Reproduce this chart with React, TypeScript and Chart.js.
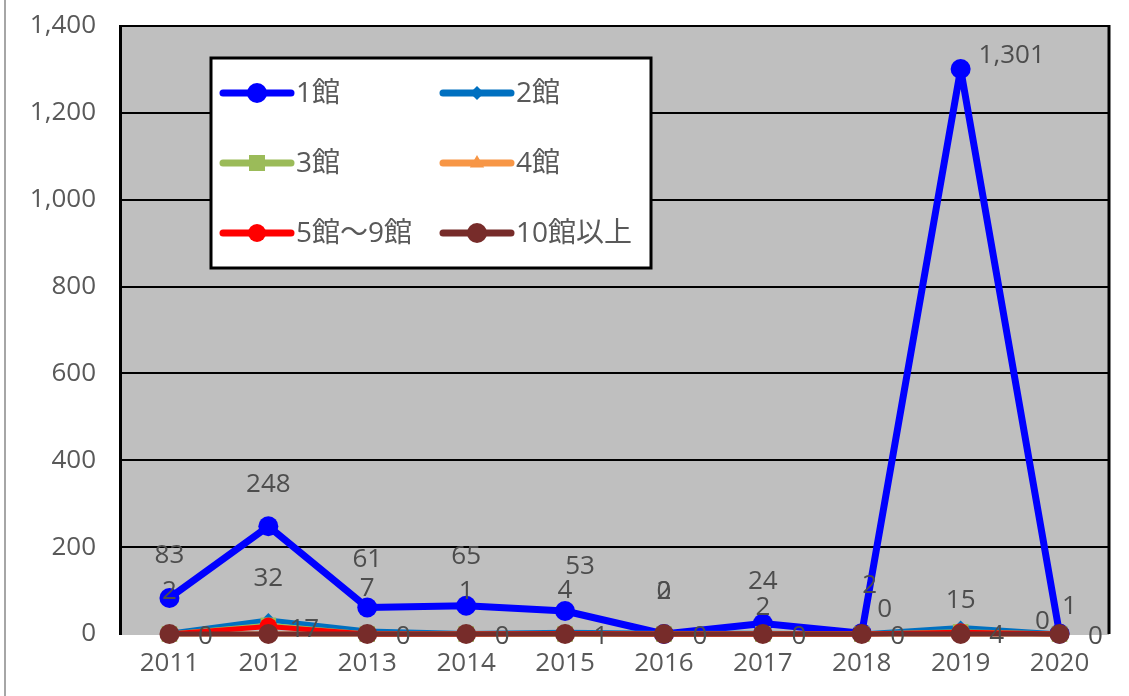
import React, { useEffect, useRef } from "react";
import { Chart, registerables } from "chart.js";

Chart.register(...registerables);

const years = ["2011", "2012", "2013", "2014", "2015", "2016", "2017", "2018", "2019", "2020"];
const kan1 = [83, 248, 61, 65, 53, 0, 24, 2, 1301, 1];
const kan2 = [2, 32, 7, 1, 4, 2, 2, 0, 15, 0];
const kan3 = [0, 20, 0, 0, 0, 0, 0, 0, 5, 0];
const kan4 = [0, 0, 0, 0, 0, 0, 0, 0, 0, 0];
const kan5to9 = [0, 17, 0, 0, 1, 0, 0, 0, 4, 0];
const kan10plus = [0, 0, 0, 0, 0, 0, 0, 0, 0, 0];
const seriesNames = ["1館", "2館", "3館", "4館", "5館～9館", "10館以上"];
const yMin = 0;
const yMax = 1400;
const yStep = 200;

const colors = ["#0000FF", "#0070C0", "#9BBB59", "#F79646", "#FF0000", "#772C2A"];
const pointStyles = ["circle", "rectRot", "rect", "triangle", "circle", "circle"];
const pointRadii = [10, 7, 11, 8, 9, 10];
const lineWidths = [7, 5, 5, 5, 5, 5];

const TEXT = "#595959";
const FONT = "'Open Sans', 'Noto Sans CJK JP', sans-serif";

// label styling: which series show labels and their default offsets
const labelDefaults: Record<number, [number, number]> = {
  0: [0, -42],
  1: [0, -42],
  4: [36, 3],
};
const labelOverrides: Record<string, [number, number]> = {
  "0-2": [0, -48],
  "0-3": [0, -49],
  "0-4": [15, -44],
  "0-7": [8, -48],
  "0-8": [51, -13],
  "0-9": [10, -27],
  "1-6": [0, -26],
  "1-7": [23, -24],
  "1-8": [0, -27],
  "1-9": [-17, -12],
};

function drawMarker(ctx: CanvasRenderingContext2D, style: string, x: number, y: number, r: number, color: string) {
  ctx.save();
  ctx.fillStyle = color;
  ctx.beginPath();
  if (style === "circle") {
    ctx.arc(x, y, r, 0, Math.PI * 2);
  } else if (style === "rectRot") {
    ctx.moveTo(x, y - r);
    ctx.lineTo(x + r, y);
    ctx.lineTo(x, y + r);
    ctx.lineTo(x - r, y);
    ctx.closePath();
  } else if (style === "rect") {
    const s = r * 0.8;
    ctx.rect(x - s, y - s, 2 * s, 2 * s);
  } else if (style === "triangle") {
    ctx.moveTo(x, y - r);
    ctx.lineTo(x + r * 0.9, y + r * 0.55);
    ctx.lineTo(x - r * 0.9, y + r * 0.55);
    ctx.closePath();
  }
  ctx.fill();
  ctx.restore();
}

const bgPlugin = {
  id: "bgPlugin",
  beforeDraw(chart: any) {
    const { ctx, chartArea } = chart;
    ctx.save();
    ctx.fillStyle = "#FFFFFF";
    ctx.fillRect(0, 0, chart.width, chart.height);
    ctx.strokeStyle = "#A6A6A6";
    ctx.lineWidth = 2;
    ctx.beginPath();
    ctx.moveTo(5, 0);
    ctx.lineTo(5, chart.height);
    ctx.stroke();
    ctx.fillStyle = "#BFBFBF";
    ctx.fillRect(chartArea.left, chartArea.top, chartArea.right - chartArea.left, chartArea.bottom - chartArea.top + 1);
    ctx.restore();
  },
  beforeDatasetsDraw(chart: any) {
    const { ctx, chartArea } = chart;
    ctx.save();
    ctx.strokeStyle = "#000";
    ctx.lineWidth = 3;
    ctx.beginPath();
    ctx.moveTo(chartArea.right, chartArea.top - 1);
    ctx.lineTo(chartArea.right, chartArea.bottom);
    ctx.stroke();
    ctx.restore();
  },
};

const labelPlugin = {
  id: "labelPlugin",
  afterDatasetsDraw(chart: any) {
    const { ctx } = chart;
    ctx.save();
    ctx.font = `26px ${FONT}`;
    ctx.fillStyle = "#4D4D4D";
    ctx.textAlign = "center";
    ctx.textBaseline = "middle";
    chart.data.datasets.forEach((ds: any, di: number) => {
      const def = labelDefaults[di];
      if (!def) return;
      const meta = chart.getDatasetMeta(di);
      meta.data.forEach((pt: any, i: number) => {
        const off = labelOverrides[`${di}-${i}`] || def;
        const v = ds.data[i] as number;
        ctx.fillText(v.toLocaleString("en-US"), pt.x + off[0], pt.y + off[1]);
      });
    });
    ctx.restore();
  },
};

const legendPlugin = {
  id: "legendPlugin",
  afterDraw(chart: any) {
    const { ctx, chartArea } = chart;
    const bx = chartArea.left + 91;
    const by = chartArea.top + 32;
    const bw = 440;
    const bh = 210;
    ctx.save();
    ctx.fillStyle = "#FFFFFF";
    ctx.fillRect(bx, by, bw, bh);
    ctx.strokeStyle = "#000";
    ctx.lineWidth = 3;
    ctx.strokeRect(bx, by, bw, bh);
    const colX = [bx + 12, bx + 232];
    const rowY = [by + 35, by + 105, by + 175];
    ctx.font = `28px ${FONT}`;
    ctx.textBaseline = "middle";
    ctx.textAlign = "left";
    seriesNames.forEach((name, i) => {
      const x = colX[i % 2];
      const y = rowY[Math.floor(i / 2)];
      ctx.strokeStyle = colors[i];
      ctx.lineWidth = 7;
      ctx.lineCap = "round";
      ctx.beginPath();
      ctx.moveTo(x, y);
      ctx.lineTo(x + 68, y);
      ctx.stroke();
      drawMarker(ctx, pointStyles[i], x + 34, y, Math.min(pointRadii[i], 10), colors[i]);
      ctx.fillStyle = TEXT;
      ctx.fillText(name, x + 73, y + 1);
    });
    ctx.restore();
  },
};

export default function App() {
  const ref = useRef<HTMLCanvasElement | null>(null);
  useEffect(() => {
    if (!ref.current) return;
    const seriesData = [kan1, kan2, kan3, kan4, kan5to9, kan10plus];
    const chart = new Chart(ref.current, {
      type: "line",
      data: {
        labels: years,
        datasets: seriesData.map((d, i) => ({
          label: seriesNames[i],
          data: d,
          borderColor: colors[i],
          backgroundColor: colors[i],
          pointBackgroundColor: colors[i],
          pointBorderColor: colors[i],
          pointBorderWidth: 0,
          pointStyle: pointStyles[i] as any,
          pointRadius: pointRadii[i],
          borderWidth: lineWidths[i],
          borderJoinStyle: "round" as any,
          borderCapStyle: "round" as any,
          tension: 0,
          fill: false,
          clip: false as any,
          order: 6 - i,
        })),
      },
      options: {
        animation: false,
        responsive: false,
        maintainAspectRatio: false,
        layout: { padding: { top: 26, right: 20, left: 0, bottom: 0 } },
        plugins: {
          legend: { display: false },
          tooltip: { enabled: false },
        },
        scales: {
          x: {
            offset: true,
            grid: { display: false, drawTicks: false },
            border: { display: false },
            ticks: { color: TEXT, font: { family: FONT, size: 26 }, padding: 14, maxRotation: 0 },
            afterFit: (s: any) => {
              s.height = 62;
              s.paddingLeft = 0;
              s.paddingRight = 0;
            },
          },
          y: {
            min: yMin,
            max: yMax,
            ticks: {
              stepSize: yStep,
              color: TEXT,
              font: { family: FONT, size: 26 },
              padding: 24,
              callback: (v: any) => Number(v).toLocaleString("en-US"),
            },
            grid: {
              color: (c: any) => (c.tick && c.tick.value === 0 ? "rgba(0,0,0,0)" : "#000000"),
              lineWidth: 2,
              drawTicks: false,
            },
            border: { display: true, color: "#000", width: 3 },
            afterFit: (s: any) => {
              s.width = 120;
              s.paddingTop = 0;
              s.paddingBottom = 0;
            },
          },
        },
      },
      plugins: [bgPlugin, labelPlugin, legendPlugin],
    });
    return () => chart.destroy();
  }, []);
  return (
    <div style={{ position: "absolute", left: 0, top: 0, width: 1129, height: 696 }}>
      <canvas ref={ref} width={1129} height={696} />
    </div>
  );
}
